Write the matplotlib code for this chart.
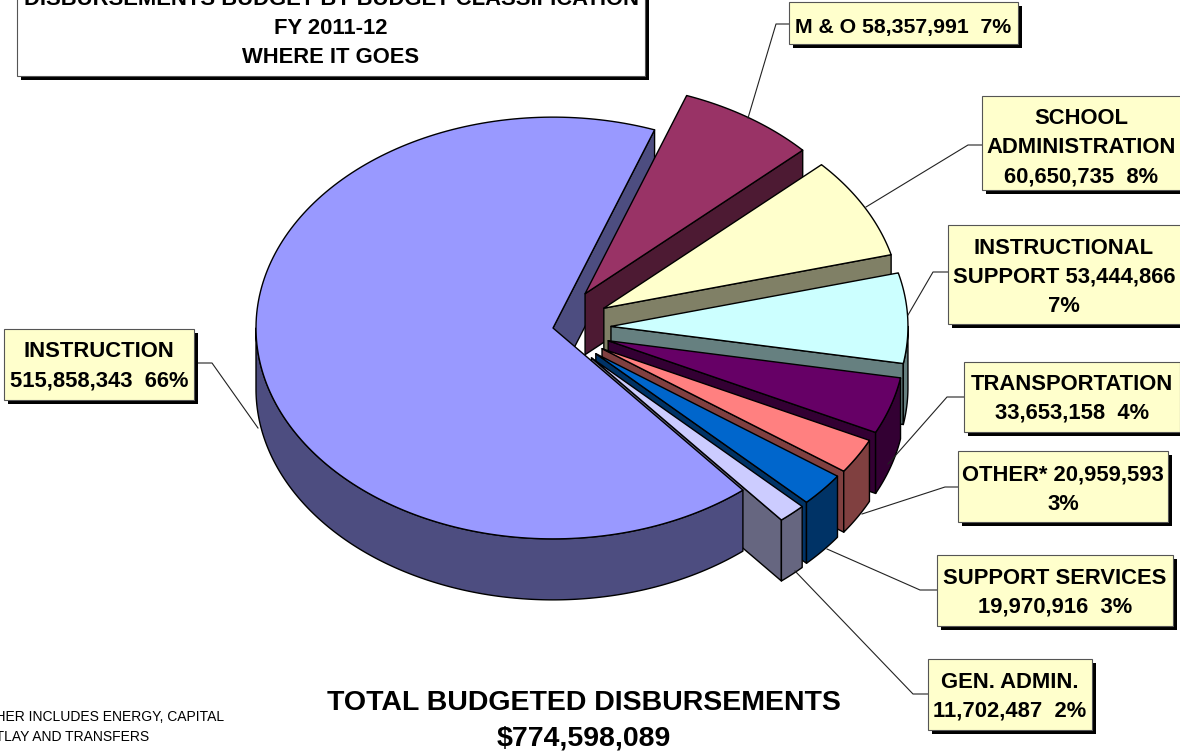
import matplotlib
matplotlib.use('Agg')
import matplotlib.pyplot as plt
import numpy as np
from matplotlib.patches import Polygon, Rectangle

plt.rcParams['font.family'] = ['Liberation Sans', 'DejaVu Sans']

names = ['M & O', 'SCHOOL ADMINISTRATION', 'INSTRUCTIONAL SUPPORT', 'TRANSPORTATION',
         'OTHER*', 'SUPPORT SERVICES', 'GEN. ADMIN.', 'INSTRUCTION']
values = [58357991, 60650735, 53444866, 33653158, 20959593, 19970916, 11702487, 515858343]
top_colors = ['#993366', '#FFFFCC', '#CCFFFF', '#660066', '#FF8080', '#0066CC', '#CCCCFF', '#9999FF']
side_colors = ['#4D1A33', '#808066', '#668080', '#330033', '#804040', '#003366', '#666680', '#4D4D80']
explode = [58, 58, 58, 58, 57, 56, 57, 0]
label_texts = ['M & O 58,357,991  7%', 'SCHOOL\nADMINISTRATION\n60,650,735  8%',
               'INSTRUCTIONAL\nSUPPORT 53,444,866\n7%', 'TRANSPORTATION\n33,653,158  4%',
               'OTHER* 20,959,593\n3%', 'SUPPORT SERVICES\n19,970,916  3%',
               'GEN. ADMIN.\n11,702,487  2%', 'INSTRUCTION\n515,858,343  66%']
label_sizes = [15.3, 15.8, 15.8, 15.8, 15.8, 15.8, 15.8, 15.8]
# x0, y0, x1, y1 of each label box
label_boxes = [(789, 2, 1018, 44), (982, 96, 1186, 190), (948, 225, 1186, 324), (964, 362, 1180, 432),
               (958, 451, 1168, 522), (937, 555, 1173, 626), (928, 659, 1092, 730), (4, 329, 194, 400)]
label_dy = [4.5, 4.5, 2.5, 1.5, 3.5, 2.5, 2, 1.5]
leaders = [[(748, 118), (776, 24), (789, 24)], [(866, 207), (968, 145), (982, 145)],
           [(908, 315), (933, 272), (948, 272)], [(888, 464), (947, 397), (964, 397)],
           [(862, 514), (945, 487), (958, 487)], [(827, 549), (920, 590), (937, 590)],
           [(795, 571), (913, 694), (928, 694)], [(258, 428), (212, 363), (194, 363)]]

cx, cy = 553, 328
rad = 297
squash = 0.71
depth = 61
start = 20.0

fig = plt.figure(figsize=(11.8, 7.54), dpi=100)
ax = fig.add_axes([0, 0, 1, 1])
ax.set_xlim(0, 1180)
ax.set_ylim(754, 0)
ax.axis('off')


def pt(ox, oy, a):
    a = np.radians(a)
    return ox + rad * np.sin(a), oy - rad * squash * np.cos(a)


def poly(xs, ys, color, z):
    ax.add_patch(Polygon(np.column_stack([xs, ys]), closed=True, facecolor=color,
                         edgecolor='black', linewidth=1.0, joinstyle='round', zorder=z))


shares = np.array(values) / sum(values) * 360
a0 = start
slices = []
for s in shares:
    slices.append((a0, a0 + s))
    a0 += s

z = 1
for i, (a1, a2) in enumerate(slices):
    mid = np.radians((a1 + a2) / 2)
    ox = cx + explode[i] * np.sin(mid)
    oy = cy - explode[i] * squash * np.cos(mid)
    arc = np.linspace(a1, a2, 200)
    ax_, ay_ = pt(ox, oy, arc)
    ex, ey = pt(ox, oy, a2)
    if names[i] == 'INSTRUCTION':
        # the back cut face goes under every other slice
        poly([ox, ex, ex, ox], [oy, ey, ey + depth, oy + depth], side_colors[i], 0.5)
    else:
        poly([ox, ex, ex, ox], [oy, ey, ey + depth, oy + depth], side_colors[i], z)
    z += 1
    # rim, front half only
    lo, hi = max(a1, 90), min(a2, 270)
    if hi > lo:
        rim = np.linspace(lo, hi, 200)
        rx, ry = pt(ox, oy, rim)
        poly(np.r_[rx, rx[::-1]], np.r_[ry, ry[::-1] + depth], side_colors[i], z)
        z += 1
    poly(np.r_[ox, ax_], np.r_[oy, ay_], top_colors[i], z)
    z += 1

# labels and leader lines
for t, b, l, fs, dy in zip(label_texts, label_boxes, leaders, label_sizes, label_dy):
    ax.plot(*zip(*l), color='#222222', linewidth=0.8, zorder=z)
    x0, y0, x1, y1 = b
    ax.add_patch(Rectangle((x0 + 4, y0 + 4), x1 - x0, y1 - y0, facecolor='black', edgecolor='none', zorder=z + 1))
    ax.add_patch(Rectangle((x0, y0), x1 - x0, y1 - y0, facecolor='#FFFFCC', edgecolor='#555555',
                           linewidth=0.8, zorder=z + 2))
    ax.text((x0 + x1) / 2 - (3 if x1 > 1180 else 0), (y0 + y1) / 2 + dy, t, ha='center', va='center',
            fontsize=fs, fontweight='bold', linespacing=1.5, zorder=z + 3)

# title box
ax.add_patch(Rectangle((21, -20), 628, 100, facecolor='black', edgecolor='none', zorder=z + 1))
ax.add_patch(Rectangle((17, -24), 628, 100, facecolor='white', edgecolor='#555555', linewidth=0.8, zorder=z + 2))
ax.text(331, 28.5, 'DISBURSEMENTS BUDGET BY BUDGET CLASSIFICATION\nFY 2011-12\nWHERE IT GOES',
        ha='center', va='center', fontsize=15.8, fontweight='bold', linespacing=1.5, zorder=z + 3)

ax.text(584, 721, 'TOTAL BUDGETED DISBURSEMENTS\n$774,598,089', ha='center', va='center',
        fontsize=20.5, fontweight='bold', linespacing=1.45)
ax.text(-33, 727, '* OTHER INCLUDES ENERGY, CAPITAL\n  OUTLAY AND TRANSFERS', ha='left', va='center',
        fontsize=10, linespacing=1.6)

fig.savefig('out.png', dpi=100)
